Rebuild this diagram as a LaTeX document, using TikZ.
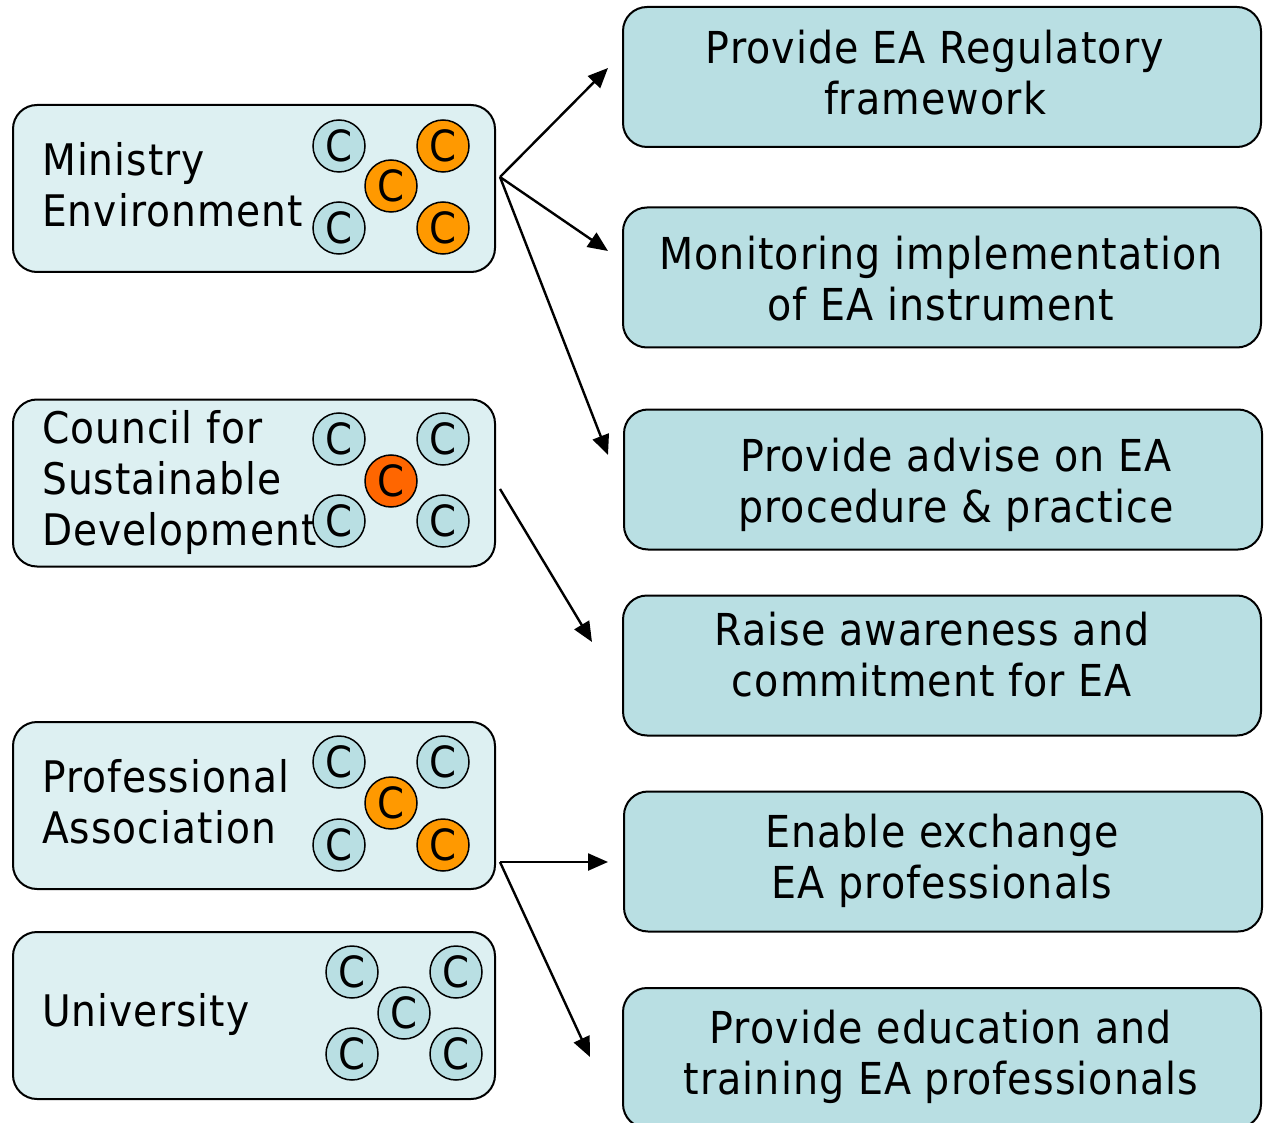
\documentclass[tikz,border=0pt]{standalone}
\usepackage{fontspec}
\setmainfont[LetterSpace=2.5]{DejaVu Sans Condensed}
\usetikzlibrary{arrows.meta}
\definecolor{leftfill}{HTML}{DDF0F2}
\definecolor{rightfill}{HTML}{B9DFE3}
\definecolor{corange}{HTML}{FF9900}
\definecolor{cred}{HTML}{FF6600}
\tikzset{
  leftbox/.style={draw=black, line width=2pt, fill=leftfill, rounded corners=24pt, minimum width=482pt, minimum height=167pt, inner sep=0pt},
  rightbox/.style={draw=black, line width=2pt, fill=rightfill, rounded corners=24pt, minimum width=638pt, minimum height=140pt, inner sep=0pt},
  btext/.style={font=\fontsize{44}{51}\selectfont, align=center, inner sep=0pt},
  ltext/.style={font=\fontsize{43.5}{51}\selectfont, align=left, anchor=west, inner sep=0pt},
  cc/.style={circle, draw=black, line width=1.5pt, minimum size=52pt, inner sep=0pt, font=\fontsize{43}{43}\selectfont},
  cb/.style={cc, fill=rightfill},
  co/.style={cc, fill=corange},
  cr/.style={cc, fill=cred},
  arr/.style={line width=2.4pt, -{Triangle[length=20pt, width=17pt]}}
}
\begin{document}
\begin{tikzpicture}[x=1pt,y=-1pt]
\useasboundingbox (0,0) rectangle (1264,1123);
\fill[white] (0,0) rectangle (1264,1123);
% left boxes
\node[leftbox] (min) at (254,188.5) {};
\node[leftbox] (csd) at (254,483) {};
\node[leftbox] (pro) at (254,805.5) {};
\node[leftbox] (uni) at (254,1015.5) {};
\node[ltext] (mint) at (42,185) {Ministry\\Environment};
\node[ltext] (csdt) at (42,482) {Council for\\Sustainable\\Development};
\node[ltext] (prot) at (42,802) {Professional\\Association};
\node[ltext] (unit) at (42,1014) {University};
% circles ministry
\node[cb] (m1) at (339,146) {C};
\node[co] (m2) at (443,146) {C};
\node[co] (m3) at (391,186) {C};
\node[cb] (m4) at (339,228) {C};
\node[co] (m5) at (443,228) {C};
% council
\node[cb] (c1) at (339,439) {C};
\node[cb] (c2) at (443,439) {C};
\node[cr] (c3) at (391,481) {C};
\node[cb] (c4) at (339,521) {C};
\node[cb] (c5) at (443,521) {C};
% professional
\node[cb] (p1) at (339,762) {C};
\node[cb] (p2) at (443,762) {C};
\node[co] (p3) at (391,803) {C};
\node[cb] (p4) at (339,845) {C};
\node[co] (p5) at (443,845) {C};
% university
\node[cb] (u1) at (352,972) {C};
\node[cb] (u2) at (456,972) {C};
\node[cb] (u3) at (404,1013) {C};
\node[cb] (u4) at (352,1054) {C};
\node[cb] (u5) at (456,1054) {C};
% right boxes
\node[rightbox] (r1) at (942,77) {};
\node[rightbox] (r2) at (942,277.5) {};
\node[rightbox] (r3) at (943,479.5) {};
\node[rightbox] (r4) at (942,665.5) {};
\node[rightbox] (r5) at (943,861.5) {};
\node[rightbox] (r6) at (942,1058) {};
\node[btext] (t1) at (935,73) {Provide EA Regulatory\\framework};
\node[btext] (t2) at (941,279) {Monitoring implementation\\of EA instrument};
\node[btext] (t3) at (956,485) {Provide advise on EA\\procedure \& practice};
\node[btext] (t4) at (932,654.5) {Raise awareness and\\commitment for EA};
\node[btext] (t5) at (942,861) {Enable exchange\\EA professionals};
\node[btext] (t6) at (941,1057) {Provide education and\\training EA professionals};
% arrows
\coordinate (sm) at (500,177);
\coordinate (sc) at (500,489);
\coordinate (sp) at (500,862);
\coordinate (e1) at (608,68);
\coordinate (e2) at (608,251);
\coordinate (e3) at (608,455);
\coordinate (e4) at (592,642);
\coordinate (e5) at (608,862);
\coordinate (e6) at (590,1057);
\draw[arr] (sm) -- (e1);
\draw[arr] (sm) -- (e2);
\draw[arr] (sm) -- (e3);
\draw[arr] (sc) -- (e4);
\draw[arr] (sp) -- (e5);
\draw[arr] (sp) -- (e6);
\end{tikzpicture}
\end{document}
